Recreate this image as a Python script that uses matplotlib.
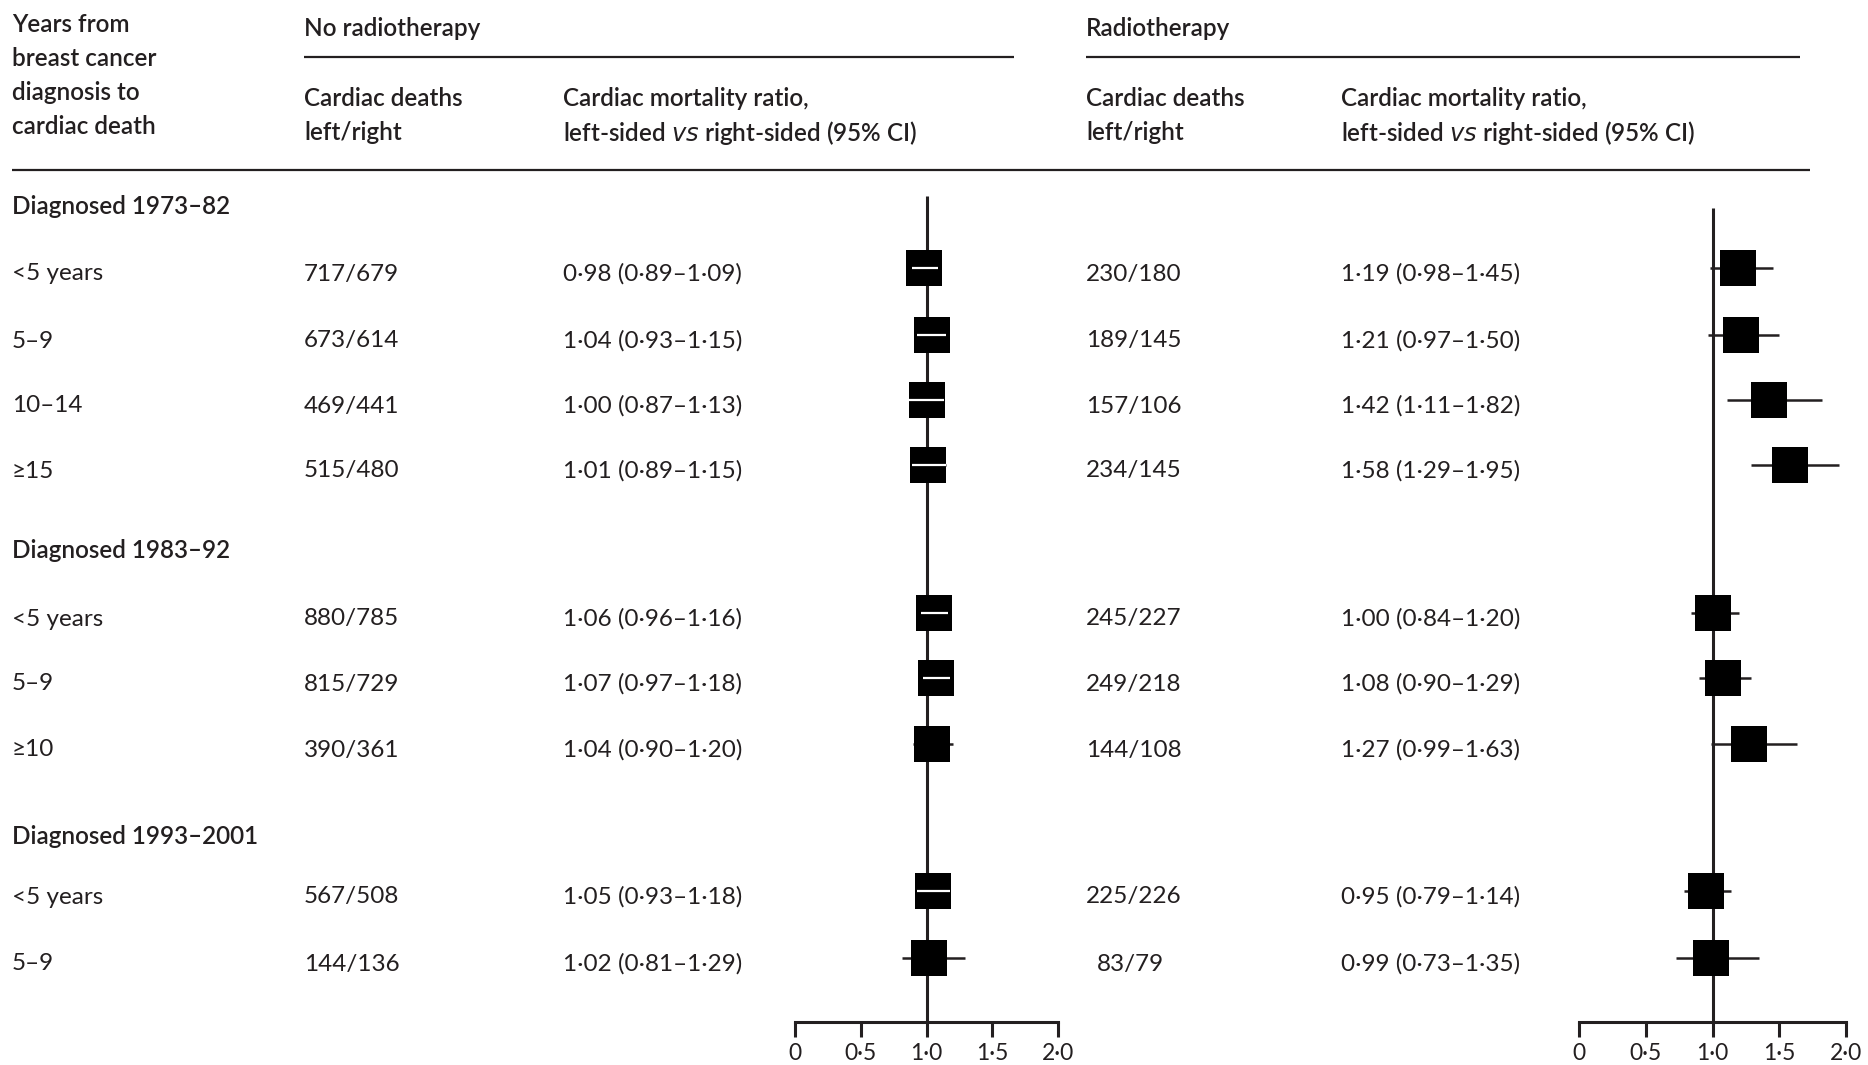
import matplotlib.pyplot as plt

plt.rcParams['font.family'] = ['Lato', 'DejaVu Sans']

# table content
groups = ['Diagnosed 1973–82', 'Diagnosed 1983–92', 'Diagnosed 1993–2001']
periods = [['<5 years', '5–9', '10–14', '≥15'],
           ['<5 years', '5–9', '≥10'],
           ['<5 years', '5–9']]

# no radiotherapy
norad_deaths = ['717/679', '673/614', '469/441', '515/480',
                '880/785', '815/729', '390/361',
                '567/508', '144/136']
norad_ratio = [0.98, 1.04, 1.00, 1.01, 1.06, 1.07, 1.04, 1.05, 1.02]
norad_lo = [0.89, 0.93, 0.87, 0.89, 0.96, 0.97, 0.90, 0.93, 0.81]
norad_hi = [1.09, 1.15, 1.13, 1.15, 1.16, 1.18, 1.20, 1.18, 1.29]

# radiotherapy
rad_deaths = ['230/180', '189/145', '157/106', '234/145',
              '245/227', '249/218', '144/108',
              '225/226', '83/79']
rad_ratio = [1.19, 1.21, 1.42, 1.58, 1.00, 1.08, 1.27, 0.95, 0.99]
rad_lo = [0.98, 0.97, 1.11, 1.29, 0.84, 0.90, 0.99, 0.79, 0.73]
rad_hi = [1.45, 1.50, 1.82, 1.95, 1.20, 1.29, 1.63, 1.14, 1.35]

ticks = [0, 0.5, 1.0, 1.5, 2.0]
tick_labels = ['0', '0·5', '1·0', '1·5', '2·0']

# layout (pixels of the 1868x1065 canvas)
W, H = 1868, 1065
ink = '#231f20'
fs = 17.5
group_y = [207, 551, 836]
row_y = [268, 335, 400, 465, 613, 678, 744, 891, 958]
col_label, col_nd, col_nr, col_rd, col_rr = 12, 304, 563, 1086, 1341
axis_y = 1022


def fmt(r, lo, hi):
    return f'{r:.2f} ({lo:.2f}–{hi:.2f})'.replace('.', '·')


fig = plt.figure(figsize=(W / 100, H / 100), dpi=100)
ax = fig.add_axes([0, 0, 1, 1])
ax.set_xlim(0, W)
ax.set_ylim(H, 0)
ax.axis('off')

# column headers
for i, s in enumerate(['Years from', 'breast cancer', 'diagnosis to', 'cardiac death']):
    ax.text(col_label, 25 + i * 34, s, fontsize=fs, color=ink, va='center', weight='semibold')
for x0, x1, title, cd, cr in [(col_nd, 1014, 'No radiotherapy', col_nd, col_nr),
                              (col_rd, 1800, 'Radiotherapy', col_rd, col_rr)]:
    ax.text(x0, 29, title, fontsize=fs, color=ink, va='center', weight='semibold')
    ax.plot([x0, x1], [57, 57], color=ink, lw=1.6, solid_capstyle='butt')
    ax.text(cd, 99, 'Cardiac deaths', fontsize=fs, color=ink, va='center', weight='semibold')
    ax.text(cd, 133, 'left/right', fontsize=fs, color=ink, va='center', weight='semibold')
    ax.text(cr, 99, 'Cardiac mortality ratio,', fontsize=fs, color=ink, va='center', weight='semibold')
    ax.text(cr, 133, 'left-sided $\\it{vs}$ right-sided (95% CI)', fontsize=fs, color=ink,
            va='center', weight='semibold')
ax.plot([col_label, 1810], [170, 170], color=ink, lw=1.6, solid_capstyle='butt')

# rows
k = 0
for g, gy in enumerate(group_y):
    ax.text(col_label, gy, groups[g], fontsize=fs, color=ink, va='center', weight='semibold')
    for p in periods[g]:
        y = row_y[k] + 6
        ax.text(col_label, y, p, fontsize=fs, color=ink, va='center')
        ax.text(col_nd, y, norad_deaths[k], fontsize=fs, color=ink, va='center')
        ax.text(col_nr, y, fmt(norad_ratio[k], norad_lo[k], norad_hi[k]), fontsize=fs, color=ink, va='center')
        pad = (3 - len(rad_deaths[k].split('/')[0])) * 11
        ax.text(col_rd + pad, y, rad_deaths[k], fontsize=fs, color=ink, va='center')
        ax.text(col_rr, y, fmt(rad_ratio[k], rad_lo[k], rad_hi[k]), fontsize=fs, color=ink, va='center')
        k += 1


def forest(x0, x1, top, est, lo, hi):
    fa = fig.add_axes([x0 / W, 0, (x1 - x0) / W, 1])
    fa.set_xlim(0, 2)
    fa.set_ylim(H, 0)
    fa.patch.set_visible(False)
    for s in ['left', 'right', 'top']:
        fa.spines[s].set_visible(False)
    fa.spines['bottom'].set_position(('data', axis_y))
    fa.spines['bottom'].set_linewidth(2.2)
    fa.spines['bottom'].set_color(ink)
    fa.set_yticks([])
    fa.set_xticks(ticks, tick_labels)
    fa.tick_params(axis='x', direction='out', length=11, width=2.2, color=ink,
                   labelsize=fs - 1, labelcolor=ink, pad=4)
    fa.vlines(1.0, top, axis_y, color=ink, lw=2.2, zorder=1)
    half = 0.14
    fa.hlines(row_y, lo, hi, color=ink, lw=1.8, zorder=2)
    fa.plot(est, row_y, 's', ms=26, color='black', mew=0, zorder=3, clip_on=False)
    for e, l, h, y in zip(est, lo, hi, row_y):
        if l >= e - half - 0.005 and h <= e + half + 0.005:
            fa.hlines(y, l, h, color='white', lw=1.6, zorder=4)


forest(795, 1058, 196, norad_ratio, norad_lo, norad_hi)
forest(1579, 1846, 208, rad_ratio, rad_lo, rad_hi)

fig.savefig('out.png', dpi=100)
